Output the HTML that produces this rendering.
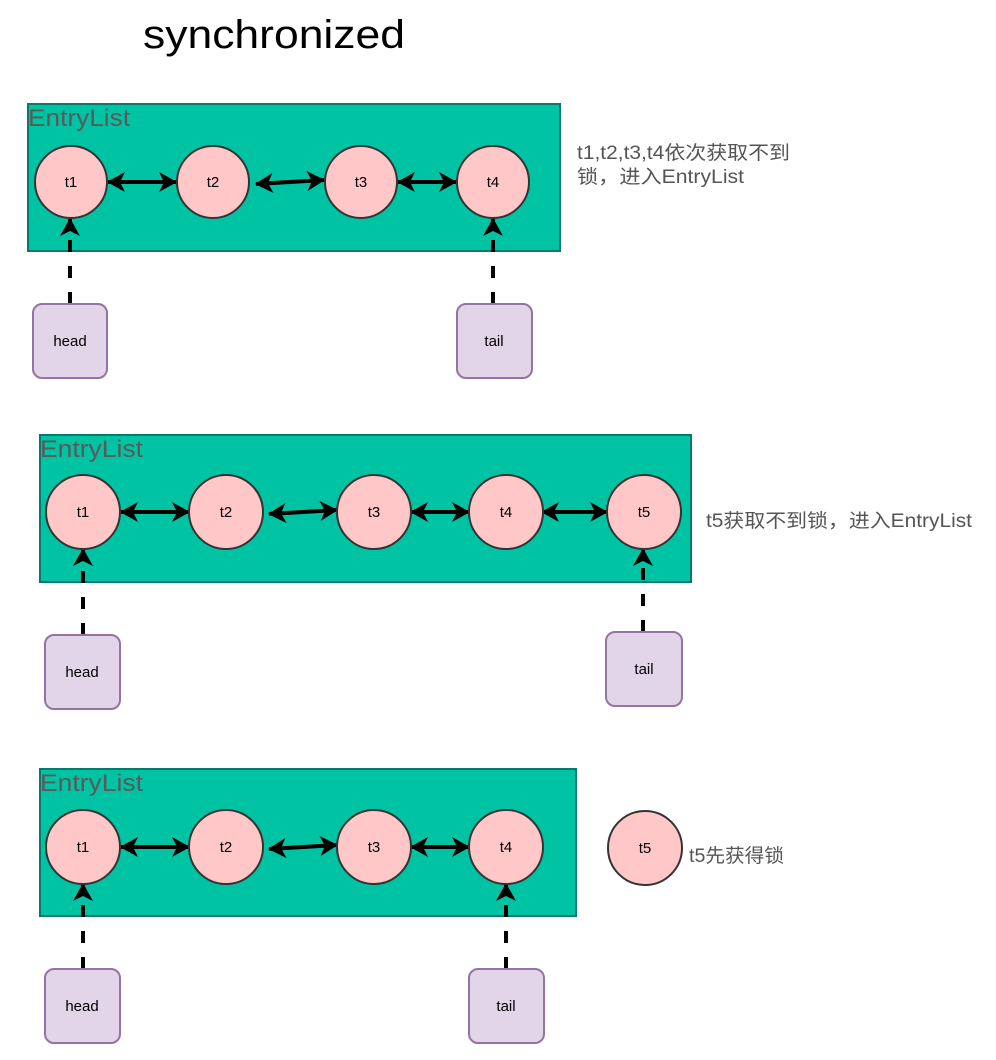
<!DOCTYPE html>
<html><head><meta charset="utf-8"><style>
html,body{margin:0;padding:0;background:#fff;}
svg{display:block;}
text{font-family:"Liberation Sans","Noto Sans CJK SC",sans-serif;}
</style></head><body>
<svg width="996" height="1060" viewBox="0 0 996 1060" xmlns="http://www.w3.org/2000/svg">
<defs>
<marker id="ah" viewBox="0 0 18 20" refX="17" refY="10" markerWidth="18" markerHeight="20" markerUnits="userSpaceOnUse" orient="auto-start-reverse">
<path d="M0,0 L18,10 L0,20 L5,10 Z" fill="#000"/>
</marker>
</defs>
<text x="143" y="48" font-size="40" fill="#000" textLength="262" lengthAdjust="spacingAndGlyphs">synchronized</text>

<!-- Diagram 1 -->
<rect x="28" y="104" width="532" height="147" fill="#00C3A4" stroke="#067A6A" stroke-width="2"/>
<text x="28" y="126" font-size="24" fill="#5a5a5a" textLength="102" lengthAdjust="spacingAndGlyphs">EntryList</text>
<g stroke="#000" stroke-width="4" fill="none">
<line x1="108" y1="182" x2="176" y2="182" marker-start="url(#ah)" marker-end="url(#ah)"/>
<line x1="256" y1="184" x2="324" y2="180" marker-start="url(#ah)" marker-end="url(#ah)"/>
<line x1="398" y1="182" x2="456" y2="182" marker-start="url(#ah)" marker-end="url(#ah)"/>
<line x1="70" y1="304" x2="70" y2="219" stroke-dasharray="12 14" marker-end="url(#ah)"/>
<line x1="493" y1="304" x2="493" y2="219" stroke-dasharray="12 14" marker-end="url(#ah)"/>
</g>
<g fill="#FFC7C7" stroke="#333" stroke-width="2">
<circle cx="71" cy="182" r="36"/><circle cx="213" cy="182" r="36"/><circle cx="361" cy="182" r="36"/><circle cx="493" cy="182" r="36"/>
</g>
<g font-size="15" text-anchor="middle" fill="#000">
<text x="71" y="187">t1</text><text x="213" y="187">t2</text><text x="361" y="187">t3</text><text x="493" y="187">t4</text>
</g>
<rect x="33" y="304" width="74" height="74" rx="9" fill="#E1D5E7" stroke="#9673A6" stroke-width="2"/>
<rect x="457" y="304" width="75" height="74" rx="9" fill="#E1D5E7" stroke="#9673A6" stroke-width="2"/>
<text x="70" y="346" font-size="15" text-anchor="middle">head</text>
<text x="494" y="346" font-size="15" text-anchor="middle">tail</text>
<text x="577" y="159" font-size="19" fill="#555" textLength="213" lengthAdjust="spacingAndGlyphs">t1,t2,t3,t4依次获取不到</text>
<text x="577" y="183" font-size="19" fill="#555" textLength="167" lengthAdjust="spacingAndGlyphs">锁，进入EntryList</text>

<!-- Diagram 2 -->
<rect x="40" y="435" width="651" height="147" fill="#00C3A4" stroke="#067A6A" stroke-width="2"/>
<text x="40" y="457" font-size="24" fill="#5a5a5a" textLength="103" lengthAdjust="spacingAndGlyphs">EntryList</text>
<g stroke="#000" stroke-width="4" fill="none">
<line x1="121" y1="512" x2="189" y2="512" marker-start="url(#ah)" marker-end="url(#ah)"/>
<line x1="269" y1="514" x2="337" y2="510" marker-start="url(#ah)" marker-end="url(#ah)"/>
<line x1="411" y1="512" x2="469" y2="512" marker-start="url(#ah)" marker-end="url(#ah)"/>
<line x1="542" y1="512" x2="607" y2="512" marker-start="url(#ah)" marker-end="url(#ah)"/>
<line x1="83" y1="635" x2="83" y2="549" stroke-dasharray="12 14" marker-end="url(#ah)"/>
<line x1="643" y1="632" x2="643" y2="549" stroke-dasharray="12 14" marker-end="url(#ah)"/>
</g>
<g fill="#FFC7C7" stroke="#333" stroke-width="2">
<circle cx="83" cy="512" r="37"/><circle cx="226" cy="512" r="37"/><circle cx="374" cy="512" r="37"/><circle cx="506" cy="512" r="37"/><circle cx="644" cy="512" r="37"/>
</g>
<g font-size="15" text-anchor="middle" fill="#000">
<text x="83" y="517">t1</text><text x="226" y="517">t2</text><text x="374" y="517">t3</text><text x="506" y="517">t4</text><text x="644" y="517">t5</text>
</g>
<rect x="45" y="635" width="75" height="74" rx="9" fill="#E1D5E7" stroke="#9673A6" stroke-width="2"/>
<rect x="606" y="632" width="76" height="74" rx="9" fill="#E1D5E7" stroke="#9673A6" stroke-width="2"/>
<text x="82" y="677" font-size="15" text-anchor="middle">head</text>
<text x="644" y="674" font-size="15" text-anchor="middle">tail</text>
<text x="706" y="527" font-size="19" fill="#555" textLength="266" lengthAdjust="spacingAndGlyphs">t5获取不到锁，进入EntryList</text>

<!-- Diagram 3 -->
<rect x="40" y="769" width="536" height="147" fill="#00C3A4" stroke="#067A6A" stroke-width="2"/>
<text x="40" y="791" font-size="24" fill="#5a5a5a" textLength="103" lengthAdjust="spacingAndGlyphs">EntryList</text>
<g stroke="#000" stroke-width="4" fill="none">
<line x1="121" y1="847" x2="189" y2="847" marker-start="url(#ah)" marker-end="url(#ah)"/>
<line x1="269" y1="849" x2="337" y2="845" marker-start="url(#ah)" marker-end="url(#ah)"/>
<line x1="411" y1="847" x2="469" y2="847" marker-start="url(#ah)" marker-end="url(#ah)"/>
<line x1="83" y1="969" x2="83" y2="884" stroke-dasharray="12 14" marker-end="url(#ah)"/>
<line x1="506" y1="969" x2="506" y2="884" stroke-dasharray="12 14" marker-end="url(#ah)"/>
</g>
<g fill="#FFC7C7" stroke="#333" stroke-width="2">
<circle cx="83" cy="847" r="37"/><circle cx="226" cy="847" r="37"/><circle cx="374" cy="847" r="37"/><circle cx="506" cy="847" r="37"/><circle cx="645" cy="848" r="37"/>
</g>
<g font-size="15" text-anchor="middle" fill="#000">
<text x="83" y="852">t1</text><text x="226" y="852">t2</text><text x="374" y="852">t3</text><text x="506" y="852">t4</text><text x="645" y="853">t5</text>
</g>
<rect x="45" y="969" width="75" height="74" rx="9" fill="#E1D5E7" stroke="#9673A6" stroke-width="2"/>
<rect x="469" y="969" width="75" height="74" rx="9" fill="#E1D5E7" stroke="#9673A6" stroke-width="2"/>
<text x="82" y="1011" font-size="15" text-anchor="middle">head</text>
<text x="506" y="1011" font-size="15" text-anchor="middle">tail</text>
<text x="689" y="862" font-size="19" fill="#555" textLength="95" lengthAdjust="spacingAndGlyphs">t5先获得锁</text>
</svg>
</body></html>
